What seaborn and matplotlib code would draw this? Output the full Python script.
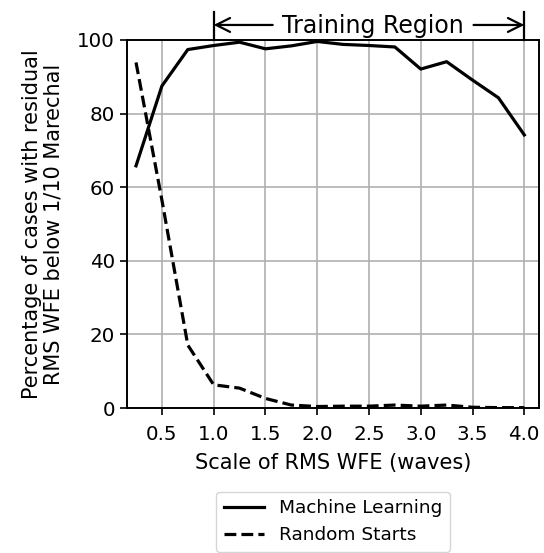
import numpy as np
import pandas as pd
import matplotlib
matplotlib.use("Agg")
import matplotlib.pyplot as plt
import seaborn as sns

# Data
scale = [0.25, 0.5, 0.75, 1.0, 1.25, 1.5, 1.75, 2.0, 2.25, 2.5, 2.75, 3.0, 3.25, 3.5, 3.75, 4.0]
machine_learning = [65.8, 87.5, 97.4, 98.5, 99.4, 97.6, 98.4, 99.6, 98.8, 98.5, 98.1, 92.1, 94.1, 89.1, 84.3, 74.2]
random_starts = [93.9, 56.5, 17.1, 6.3, 5.4, 2.6, 0.8, 0.4, 0.5, 0.5, 0.8, 0.5, 0.8, 0.2, 0.1, 0.1]
series_names = ["Machine Learning", "Random Starts"]
xticks = [0.5, 1.0, 1.5, 2.0, 2.5, 3.0, 3.5, 4.0]
yticks = [0, 20, 40, 60, 80, 100]
region = [1.0, 4.0]

df = pd.DataFrame({
    "scale": scale * 2,
    "pct": machine_learning + random_starts,
    "Method": [series_names[0]] * len(scale) + [series_names[1]] * len(scale),
})

plt.rcParams["font.family"] = ["DejaVu Sans"]
fs_tick = 14.3
fs_label = 15
fs_leg = 13.3

fig = plt.figure(figsize=(5.44, 5.53), dpi=100)
ax = fig.add_axes([0.2329, 0.2622, 0.9914 - 0.2329, 0.9277 - 0.2622])

sns.lineplot(data=df, x="scale", y="pct", style="Method", color="black",
             dashes={series_names[0]: "", series_names[1]: (3.7, 1.6)},
             linewidth=2.3, ax=ax)

ax.set_xlim(0.16, 4.145)
ax.set_ylim(0, 100)
ax.set_xticks(xticks)
ax.set_xticklabels([f"{t:.1f}" for t in xticks])
ax.set_yticks(yticks)
ax.tick_params(labelsize=fs_tick, length=5, width=1.2, direction="out", color="black")
ax.tick_params(axis="x", pad=7)
ax.grid(True, color="#b0b0b0", linewidth=1.2)
ax.set_axisbelow(True)
for sp in ax.spines.values():
    sp.set_linewidth(1.4)
    sp.set_color("black")

ax.set_xlabel("Scale of RMS WFE (waves)", fontsize=fs_label, labelpad=7)
ax.set_ylabel("Percentage of cases with residual\nRMS WFE below 1/10 Marechal",
              fontsize=fs_label, labelpad=10, linespacing=1.1)

leg = ax.legend(loc="upper center", bbox_to_anchor=(0.5, -0.2274), fontsize=fs_leg,
                handlelength=2.2, frameon=True, borderaxespad=0)
leg.get_frame().set_edgecolor("#cccccc")

# Training region annotation
tr = ax.get_xaxis_transform()
ya = 1.0408
ax.text(sum(region) / 2 + 0.04, 1.0198, "Training Region", transform=tr,
        ha="center", va="baseline", fontsize=17)
ax.annotate("", xy=(region[0], ya), xytext=(1.57, ya), xycoords=tr, textcoords=tr,
            arrowprops=dict(arrowstyle="->,head_length=0.5,head_width=0.25", lw=1.6,
                            shrinkA=0, shrinkB=0, mutation_scale=20, color="black"),
            annotation_clip=False)
ax.annotate("", xy=(region[1], ya), xytext=(3.51, ya), xycoords=tr, textcoords=tr,
            arrowprops=dict(arrowstyle="->,head_length=0.5,head_width=0.25", lw=1.6,
                            shrinkA=0, shrinkB=0, mutation_scale=20, color="black"),
            annotation_clip=False)
for xv in region:
    ax.plot([xv, xv], [1.0, 1.075], transform=tr, color="black", lw=1.6, clip_on=False)

fig.savefig("out.png", dpi=100)
